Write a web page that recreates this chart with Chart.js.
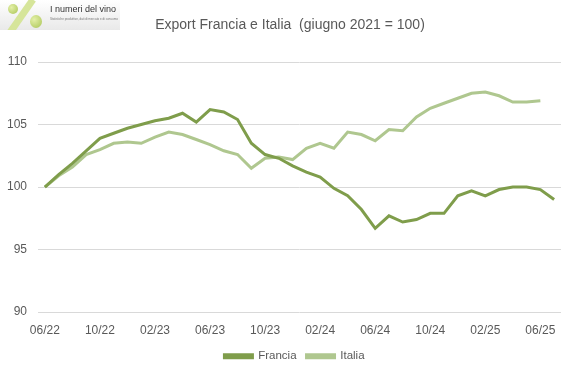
<!DOCTYPE html>
<html lang="it">
<head>
  <meta charset="UTF-8">
  <title>Export Francia e Italia</title>
  <script src="https://cdn.jsdelivr.net/npm/chart.js"></script>
  <style>
    html, body { margin: 0; padding: 0; background: #fff; }
    .wrap { position: relative; width: 583px; height: 377px; }
    .title {
      position: absolute; left: 0; top: 16px; width: 580px; text-align: center;
      font: 14px/17px "Liberation Sans", Arial, sans-serif; color: #595959; white-space: pre;
    }
    .logo {
      position: absolute; left: 0; top: 0; width: 120px; height: 30px;
      background: linear-gradient(to bottom, #ffffff, #e9e9e9);
      overflow: hidden;
    }
    .logo .bar {
      position: absolute; left: 18px; top: -4px; width: 7px; height: 40px;
      background: #d6e59a; transform: rotate(35deg);
    }
    .logo .g1, .logo .g2 {
      position: absolute; border-radius: 50%;
      background: radial-gradient(circle at 35% 35%, #e4f0a8, #a9c454);
    }
    .logo .g1 { left: 8px; top: 4px; width: 10px; height: 10px; }
    .logo .g2 { left: 30px; top: 15px; width: 12px; height: 13px; }
    .logo .t1 {
      position: absolute; left: 50px; top: 4px; font: 9px "Liberation Sans", Arial, sans-serif; color: #333;
    }
    .logo .t2 {
      position: absolute; left: 50px; top: 17px; font: 3px "Liberation Sans", Arial, sans-serif; color: #777;
    }
  </style>
</head>
<body>
  <div class="wrap">
    <canvas id="chart" width="583" height="377"></canvas>
    <div class="title" id="title"></div>
    <div class="logo">
      <div class="bar"></div><div class="g1"></div><div class="g2"></div>
      <div class="t1">I numeri del vino</div>
      <div class="t2">Statistiche produttive, dati di mercato e di consumo</div>
    </div>
  </div>
  <script>
    // mesi da 06/22 a 07/25
    const months = ['06/22','07/22','08/22','09/22','10/22','11/22','12/22',
      '01/23','02/23','03/23','04/23','05/23','06/23','07/23','08/23','09/23','10/23','11/23','12/23',
      '01/24','02/24','03/24','04/24','05/24','06/24','07/24','08/24','09/24','10/24','11/24','12/24',
      '01/25','02/25','03/25','04/25','05/25','06/25','07/25'];

    const francia = [100, 101.0, 101.9, 102.9, 103.9, 104.3, 104.7, 105.0, 105.3, 105.5, 105.9, 105.2,
      106.2, 106.0, 105.4, 103.5, 102.6, 102.3, 101.7, 101.2, 100.8, 99.9, 99.3, 98.2, 96.7, 97.7,
      97.2, 97.4, 97.9, 97.9, 99.3, 99.7, 99.3, 99.8, 100.0, 100.0, 99.8, 99.0];

    const italia = [100, 100.9, 101.6, 102.6, 103.0, 103.5, 103.6, 103.5, 104.0, 104.4, 104.2, 103.8,
      103.4, 102.9, 102.6, 101.5, 102.3, 102.4, 102.2, 103.1, 103.5, 103.1, 104.4, 104.2, 103.7, 104.6,
      104.5, 105.6, 106.3, 106.7, 107.1, 107.5, 107.6, 107.3, 106.8, 106.8, 106.9, null];

    const yTicks = [90, 95, 100, 105, 110];
    const titleText = 'Export Francia e Italia  (giugno 2021 = 100)';
    document.getElementById('title').textContent = titleText;

    const fontFam = '"Liberation Sans", Arial, sans-serif';
    const grey = '#595959';

    // sposta la legenda un po' a destra, come nell'originale
    const legendShift = {
      id: 'legendShift',
      afterLayout(chart) {
        chart.legend.left += 14;
        chart.legend.right += 14;
      }
    };

    new Chart(document.getElementById('chart'), {
      type: 'line',
      data: {
        labels: months,
        datasets: [
          { label: 'Francia', data: francia, borderColor: '#7f9d4b', backgroundColor: '#7f9d4b',
            borderWidth: 3, pointRadius: 0, tension: 0 },
          { label: 'Italia', data: italia, borderColor: '#afc78f', backgroundColor: '#afc78f',
            borderWidth: 3, pointRadius: 0, tension: 0 }
        ]
      },
      options: {
        responsive: false,
        animation: false,
        layout: { padding: { left: 0, right: 22, top: 62, bottom: 5 } },
        scales: {
          x: {
            offset: true,
            grid: { display: false },
            border: { display: false },
            ticks: {
              autoSkip: false, maxRotation: 0, color: grey, padding: 3,
              font: { family: fontFam, size: 12 },
              callback: function (v, i) { return i % 4 === 0 ? months[i] : null; }
            }
          },
          y: {
            min: 90, max: 110,
            afterBuildTicks: function (axis) { axis.ticks = yTicks.map(v => ({ value: v })); },
            afterFit: function (axis) { axis.width = 38; },
            grid: { color: '#d9d9d9', drawTicks: false },
            border: { display: false },
            ticks: { color: grey, padding: 11, font: { family: fontFam, size: 12 } }
          }
        },
        plugins: {
          title: { display: false },
          legend: {
            position: 'bottom',
            labels: {
              color: grey, boxWidth: 28, boxHeight: 3, padding: 10,
              font: { family: fontFam, size: 11.5 }
            }
          },
          tooltip: { enabled: false }
        }
      },
      plugins: [legendShift]
    });
  </script>
</body>
</html>
